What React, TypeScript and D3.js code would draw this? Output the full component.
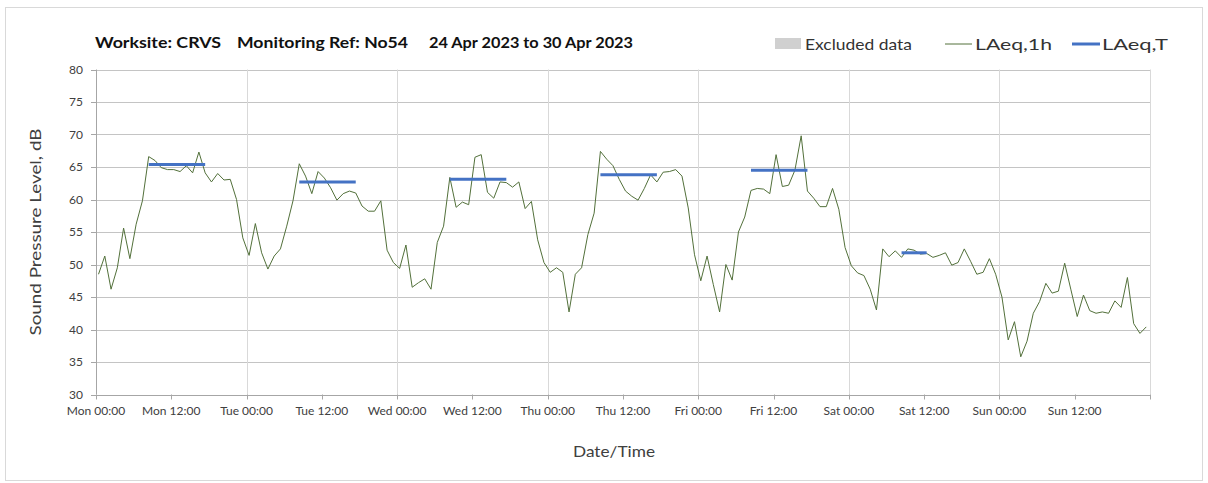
import React from 'react';
import * as d3 from 'd3';

// hourly LAeq,1h readings, Mon 00:00 .. Sun 23:00
const laeq1h: number[] = [
  48.5, 51.3, 46.2, 49.5, 55.6, 50.9, 56.2, 59.8, 66.6, 66.0, 64.9, 64.6, 64.6, 64.3, 65.2, 64.1, 67.3, 64.1, 62.7, 64.0, 63.0, 63.1, 60.0, 54.1,
  51.4, 56.3, 51.8, 49.3, 51.3, 52.4, 55.9, 59.8, 65.5, 63.6, 60.9, 64.3, 63.3, 61.8, 59.9, 60.9, 61.3, 61.0, 59.0, 58.2, 58.2, 59.8, 52.2, 50.3,
  49.4, 53.0, 46.5, 47.2, 47.8, 46.2, 53.4, 55.9, 63.4, 58.8, 59.6, 59.2, 66.5, 66.9, 61.1, 60.2, 62.7, 62.6, 61.9, 62.7, 58.6, 59.7, 53.8, 50.3,
  48.8, 49.5, 48.8, 42.7, 48.5, 49.5, 54.6, 57.9, 67.4, 66.2, 65.2, 63.1, 61.3, 60.5, 59.9, 61.7, 63.8, 62.7, 64.2, 64.3, 64.6, 63.6, 58.7, 51.5,
  47.5, 51.3, 46.9, 42.7, 50.0, 47.6, 55.0, 57.3, 61.4, 61.7, 61.6, 60.9, 66.9, 62.0, 62.2, 64.5, 69.8, 61.3, 60.2, 58.9, 58.9, 61.7, 58.5, 52.6,
  49.8, 48.7, 48.3, 46.2, 43.0, 52.4, 51.2, 52.1, 51.1, 52.4, 52.2, 51.6, 51.7, 51.1, 51.4, 51.8, 49.9, 50.3, 52.4, 50.5, 48.5, 48.8, 50.9, 48.5,
  45.0, 38.4, 41.2, 35.8, 38.2, 42.5, 44.3, 47.1, 45.6, 45.9, 50.2, 46.1, 42.0, 45.3, 42.9, 42.5, 42.7, 42.5, 44.4, 43.4, 48.0, 40.9, 39.4, 40.4,
];

// LAeq,T over the working period of each day (first hour index, last hour index, level)
const periodStart: number[] = [8, 32, 56, 80, 104, 128];
const periodEnd: number[] = [17, 41, 65, 89, 113, 132];
const periodLevel: number[] = [65.4, 62.7, 63.1, 63.8, 64.5, 51.8];

const yTicks: number[] = [30, 35, 40, 45, 50, 55, 60, 65, 70, 75, 80];

const weekStart = new Date(2023, 3, 24, 0, 0);
const weekEnd = new Date(2023, 4, 1, 0, 0);
const HOUR = 3600 * 1000;
const pointOffset = 0.4; // plotted slightly after the hour mark

const W = 1208;
const H = 483;
const left = 96;
const right = 1150;
const top = 69.5;
const bottom = 394.5;

const font = 'Lato, "Open Sans", sans-serif';
const green = '#52703a';
const blue = '#4472c4';

const App = () => {
  const x = d3.scaleTime().domain([weekStart, weekEnd]).range([left, right]);
  const y = d3.scaleLinear().domain([30, 80]).range([bottom, top]);
  const at = (i: number) => new Date(weekStart.getTime() + (i + pointOffset) * HOUR);

  const line = d3.line<number>()
    .x((_, i) => x(at(i)))
    .y(d => y(d));

  const halfDays = d3.timeHour.every(12)!.range(weekStart, weekEnd);
  const days = d3.timeDay.range(weekStart, new Date(weekEnd.getTime() + 1));
  const fmt = d3.timeFormat('%a %H:%M');

  return (
    <svg width={W} height={H} style={{ position: 'absolute', left: 0, top: 0 }} fontFamily={font}>
      <rect x={5.5} y={7.5} width={1197} height={473} fill="white" stroke="#d9d9d9" />

      {/* title */}
      <g fontWeight="bold" fontSize={16} fill="#111">
        <text x={95} y={48} textLength={126} lengthAdjust="spacingAndGlyphs">Worksite: CRVS</text>
        <text x={237} y={48} textLength={171} lengthAdjust="spacingAndGlyphs">Monitoring Ref: No54</text>
        <text x={429} y={48} textLength={204} lengthAdjust="spacingAndGlyphs">24 Apr 2023 to 30 Apr 2023</text>
      </g>

      {/* legend */}
      <g fontSize={16} fill="#333">
        <rect x={775} y={38} width={26} height={11} fill="#d0d0d0" />
        <text x={805} y={49.5} textLength={107} lengthAdjust="spacingAndGlyphs">Excluded data</text>
        <line x1={945} x2={972} y1={44} y2={44} stroke={green} strokeWidth={1} />
        <text x={975} y={49.5} textLength={77} lengthAdjust="spacingAndGlyphs">LAeq,1h</text>
        <line x1={1072} x2={1100} y1={44} y2={44} stroke={blue} strokeWidth={3} />
        <text x={1102} y={49.5} textLength={66} lengthAdjust="spacingAndGlyphs">LAeq,T</text>
      </g>

      {/* grid */}
      {yTicks.map(t => (
        <line key={'gy' + t} x1={left} x2={right} y1={Math.round(y(t)) + 0.5} y2={Math.round(y(t)) + 0.5}
          stroke={t === 30 ? '#a6a6a6' : '#c4c4c4'} />
      ))}
      {days.map(d => (
        <line key={'gx' + d.getTime()} x1={Math.round(x(d)) + 0.5} x2={Math.round(x(d)) + 0.5}
          y1={top} y2={bottom} stroke={x(d) === left ? '#a6a6a6' : '#d9d9d9'} />
      ))}

      {/* y axis */}
      {yTicks.map(t => (
        <g key={'yt' + t}>
          <line x1={91} x2={left} y1={Math.round(y(t)) + 0.5} y2={Math.round(y(t)) + 0.5} stroke="#a6a6a6" />
          <text x={83} y={y(t)} dy="0.35em" textAnchor="end" fontSize={12} fill="#404040">{t}</text>
        </g>
      ))}
      <text transform={`translate(41,${(top + bottom) / 2}) rotate(-90)`} textAnchor="middle" fontSize={16} fill="#404040"
        textLength={207} lengthAdjust="spacingAndGlyphs">
        Sound Pressure Level, dB
      </text>

      {/* x axis */}
      {halfDays.concat([weekEnd]).map(d => (
        <line key={'xt' + d.getTime()} x1={Math.round(x(d)) + 0.5} x2={Math.round(x(d)) + 0.5}
          y1={bottom} y2={bottom + 5} stroke="#a6a6a6" />
      ))}
      {halfDays.map(d => (
        <text key={'xl' + d.getTime()} x={x(d)} y={415} textAnchor="middle" fontSize={12} fill="#404040">{fmt(d)}</text>
      ))}
      <text x={614} y={457} textAnchor="middle" fontSize={16} fill="#404040" textLength={82} lengthAdjust="spacingAndGlyphs">Date/Time</text>

      {/* series */}
      <path d={line(laeq1h) ?? ''} fill="none" stroke={green} strokeWidth={1} strokeLinejoin="round" />
      {periodLevel.map((v, k) => (
        <line key={'p' + k} x1={x(at(periodStart[k]))} x2={x(at(periodEnd[k]))} y1={y(v)} y2={y(v)}
          stroke={blue} strokeWidth={3} />
      ))}
    </svg>
  );
};

export default App;
